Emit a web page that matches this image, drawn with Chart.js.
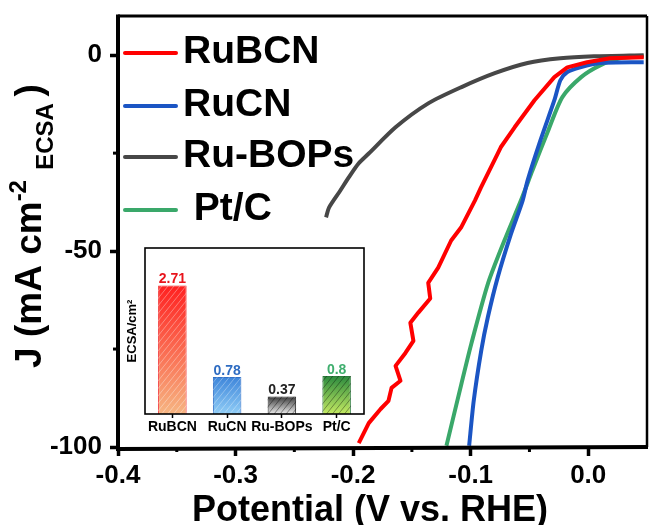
<!DOCTYPE html>
<html>
<head>
<meta charset="utf-8">
<script src="https://cdn.jsdelivr.net/npm/chart.js@4.4.0/dist/chart.umd.min.js"></script>
<style>
  html, body { margin: 0; padding: 0; background: #fff; }
  #wrap { position: relative; width: 649px; height: 525px; }
  #main { position: absolute; left: 0; top: 0; }
  #inset { position: absolute; left: 110px; top: 240px; }
</style>
</head>
<body>
<div id="wrap">
  <canvas id="main" width="649" height="525"></canvas>
  <canvas id="inset" width="260" height="200"></canvas>
</div>
<script>
// LSV curves, potential (V vs. RHE) vs J (mA cm-2 ECSA)
const seriesNames = ['RuBCN', 'RuCN', 'Ru-BOPs', 'Pt/C'];
const legendLabels = ['RuBCN', 'RuCN', 'Ru-BOPs', ' Pt/C'];

const rubcnX = [-0.1952, -0.1867, -0.1766, -0.1699, -0.1673, -0.1597, -0.1639, -0.1555, -0.1487, -0.1513, -0.1445,
                -0.1344, -0.1361, -0.1276, -0.1166, -0.1082, -0.0964, -0.0913, -0.0770, -0.0744, -0.0626, -0.0457,
                -0.0288, -0.0178, -0.0010, 0.0185, 0.0472];
const rubcnY = [-99.0, -93.9, -90.3, -88.2, -84.9, -83.1, -79.3, -76.0, -72.9, -68.3, -65.7,
                -62.1, -58.1, -54.2, -47.3, -44.0, -37.1, -33.8, -25.1, -23.5, -18.4, -11.5,
                -5.6, -3.1, -1.8, -0.8, -0.5];

const rucnX = [-0.1013, -0.0974, -0.0910, -0.0854, -0.0770, -0.0657, -0.0558, -0.0516, -0.0406, -0.0288,
               -0.0237, -0.0178, -0.0068, 0.0101, 0.0472];
const rucnY = [-99.7, -88.2, -75.4, -66.9, -56.7, -45.6, -37.1, -32.0, -21.7, -11.5,
               -6.4, -4.3, -3.1, -2.0, -1.8];

const ruBopsX = [-0.2230, -0.2205, -0.2110, -0.2037, -0.1952, -0.1867, -0.1639, -0.1361, -0.1082, -0.0795,
                 -0.0516, -0.0237, 0.0050, 0.0472];
const ruBopsY = [-41.4, -38.9, -34.6, -31.2, -27.6, -25.1, -18.4, -12.3, -8.2, -4.6,
                 -2.0, -0.8, -0.3, 0.0];

const ptcX = [-0.1206, -0.1079, -0.0995, -0.0853, -0.0713, -0.0573, -0.0474, -0.0340, -0.0220, -0.0060,
              0.0101, 0.0270, 0.0472];
const ptcY = [-99.7, -83.9, -73.7, -58.3, -47.3, -37.1, -29.4, -19.2, -10.7, -5.6,
              -2.6, -0.8, -0.3];

const xTicks = [-0.4, -0.3, -0.2, -0.1, 0.0];
const xMinor = [-0.35, -0.25, -0.15, -0.05];
const yTicks = [-100, -50, 0];
const yMinor = [-75, -25];

// inset: ECSA bars
const insetLabels = ['RuBCN', 'RuCN', 'Ru-BOPs', 'Pt/C'];
const ecsaValues = [2.71, 0.78, 0.37, 0.8];

const FONT = "'Liberation Sans', Arial, sans-serif";
const lineColors = ['#ff0000', '#1b55c4', '#474747', '#3aa86a'];
const barTop = ['#ff2020', '#3d85da', '#383838', '#2b8a3e'];
const barBottom = ['#f6b582', '#90cdf6', '#ececec', '#c4ea62'];
const barEdge = ['#f01818', '#3070c8', '#303030', '#2b7a3a'];
const hatchColors = ['rgba(255,255,255,0.45)', 'rgba(255,255,255,0.4)', 'rgba(0,0,0,0.5)', 'rgba(0,0,0,0.45)'];
const valueColors = ['#e8141c', '#2e6cc2', '#222222', '#3fae6e'];

function pts(xs, ys) {
  return xs.map((x, i) => ({ x: x, y: ys[i] }));
}

const curves = [[rubcnX, rubcnY], [rucnX, rucnY], [ruBopsX, ruBopsY], [ptcX, ptcY]];

// frame, minor ticks, legend and axis titles of the main plot
const mainDecor = {
  id: 'mainDecor',
  afterDraw(chart) {
    const c = chart.ctx, a = chart.chartArea;
    const xs = chart.scales.x, ys = chart.scales.y;
    c.save();
    c.strokeStyle = '#000';
    // minor ticks
    c.lineWidth = 3;
    xMinor.forEach(v => {
      const px = xs.getPixelForValue(v);
      c.beginPath(); c.moveTo(px, a.bottom); c.lineTo(px, a.bottom + 5); c.stroke();
    });
    yMinor.forEach(v => {
      const py = ys.getPixelForValue(v);
      c.beginPath(); c.moveTo(a.left, py); c.lineTo(a.left - 5, py); c.stroke();
    });
    // frame
    c.lineWidth = 3;
    c.beginPath(); c.moveTo(a.left, a.top); c.lineTo(a.right, a.top); c.stroke();
    c.lineWidth = 2.5;
    c.beginPath(); c.moveTo(a.right, a.top); c.lineTo(a.right, a.bottom); c.stroke();
    c.lineWidth = 4;
    c.beginPath(); c.moveTo(a.left, a.top - 1.5); c.lineTo(a.left, a.bottom + 2); c.lineTo(a.right + 1, a.bottom); c.stroke();

    // legend
    const rows = [53, 106, 157, 210];
    c.font = 'bold 39px ' + FONT;
    c.textAlign = 'left';
    c.textBaseline = 'alphabetic';
    legendLabels.forEach((t, i) => {
      c.strokeStyle = lineColors[i];
      c.lineWidth = 4;
      c.lineCap = 'round';
      c.beginPath(); c.moveTo(125, rows[i]); c.lineTo(176, rows[i]); c.stroke();
      c.fillStyle = '#000';
      c.fillText(t, 183, rows[i] + 10);
    });

    // x title
    c.font = 'bold 36px ' + FONT;
    c.textAlign = 'center';
    c.fillText('Potential (V vs. RHE)', 370, 521);

    // y title with super/subscript
    const big = 'bold 37px ' + FONT, small = 'bold 24px ' + FONT;
    const parts = [['J (mA cm', big, 0], ['-2', small, -15], [' ', big, 0], ['ECSA', small, 12], [' ', small, 0], [')', big, 0]];
    let total = 0;
    parts.forEach(p => { c.font = p[1]; p.w = c.measureText(p[0]).width; total += p.w; });
    c.translate(41, 226);
    c.rotate(-Math.PI / 2);
    c.textAlign = 'left';
    let x = -total / 2;
    parts.forEach(p => { c.font = p[1]; c.fillText(p[0], x, p[2]); x += p.w; });
    c.restore();
  }
};

new Chart(document.getElementById('main'), {
  type: 'scatter',
  data: {
    datasets: curves.map((cv, i) => ({
      label: seriesNames[i],
      data: pts(cv[0], cv[1]),
      showLine: true,
      borderColor: lineColors[i],
      borderWidth: 4,
      pointRadius: 0,
      tension: i === 0 ? 0 : 0.25,
      borderJoinStyle: 'round'
    }))
  },
  options: {
    responsive: false,
    animation: false,
    layout: { padding: { top: 16, right: 2, left: 0, bottom: 0 } },
    plugins: { legend: { display: false }, tooltip: { enabled: false } },
    scales: {
      x: {
        type: 'linear', min: -0.4, max: 0.05,
        afterFit: s => { s.height = 78; s.paddingLeft = 0; s.paddingRight = 0; },
        afterBuildTicks: s => { s.ticks = xTicks.map(v => ({ value: v })); },
        grid: { drawOnChartArea: false, tickLength: 9, tickWidth: 3.5, tickColor: '#000' },
        border: { display: false },
        ticks: {
          font: { family: FONT, size: 26, weight: 'bold' }, color: '#000',
          padding: 4, maxRotation: 0, autoSkip: false,
          callback: v => Number(v).toFixed(1)
        }
      },
      y: {
        type: 'linear', min: -100, max: 10,
        afterFit: s => { s.width = 118; s.paddingTop = 0; s.paddingBottom = 0; },
        afterBuildTicks: s => { s.ticks = yTicks.map(v => ({ value: v })); },
        grid: { drawOnChartArea: false, tickLength: 8, tickWidth: 3.5, tickColor: '#000' },
        border: { display: false },
        ticks: {
          font: { family: FONT, size: 26, weight: 'bold' }, color: '#000',
          padding: 8, autoSkip: false,
          callback: v => String(v)
        }
      }
    }
  },
  plugins: [mainDecor]
});

// inset bar chart
const insetDecor = {
  id: 'insetDecor',
  beforeDatasetsDraw(chart) {
    const c = chart.ctx, a = chart.chartArea;
    c.save();
    c.fillStyle = '#fff';
    c.fillRect(a.left, a.top, a.right - a.left, a.bottom - a.top);
    c.restore();
  },
  afterDatasetsDraw(chart) {
    const c = chart.ctx;
    chart.getDatasetMeta(0).data.forEach((bar, i) => {
      const p = bar.getProps(['x', 'y', 'base', 'width'], true);
      const l = p.x - p.width / 2, r = p.x + p.width / 2, h = p.base - p.y;
      c.save();
      c.beginPath(); c.rect(l, p.y, p.width, h); c.clip();
      c.strokeStyle = hatchColors[i];
      c.lineWidth = 0.8;
      for (let k = l - h; k < r; k += 6) {
        c.beginPath(); c.moveTo(k, p.base); c.lineTo(k + h * 0.8, p.y); c.stroke();
      }
      c.restore();
      c.save();
      c.font = 'bold 14px ' + FONT;
      c.fillStyle = valueColors[i];
      c.textAlign = 'center';
      c.textBaseline = 'alphabetic';
      c.fillText(String(ecsaValues[i]), p.x, p.y - 2);
      c.restore();
    });
  },
  afterDraw(chart) {
    const c = chart.ctx, a = chart.chartArea;
    c.save();
    c.strokeStyle = '#000';
    c.lineWidth = 1.6;
    c.strokeRect(a.left, a.top, a.right - a.left, a.bottom - a.top);
    c.translate(22, 91);
    c.rotate(-Math.PI / 2);
    c.font = 'bold 13px ' + FONT;
    c.fillStyle = '#000';
    c.textAlign = 'center';
    c.textBaseline = 'middle';
    c.fillText('ECSA/cm\u00b2', 0, 0);
    c.restore();
  }
};

new Chart(document.getElementById('inset'), {
  type: 'bar',
  data: {
    labels: insetLabels,
    datasets: [{
      data: ecsaValues,
      barPercentage: 0.52,
      categoryPercentage: 1.0,
      borderWidth: 1,
      borderColor: barEdge,
      backgroundColor: ctx => {
        const chart = ctx.chart;
        if (ctx.type !== 'data' || !chart.chartArea) return barTop[0];
        const i = ctx.dataIndex, ys = chart.scales.y;
        const g = chart.ctx.createLinearGradient(0, ys.getPixelForValue(ecsaValues[i]), 0, ys.getPixelForValue(0));
        g.addColorStop(0, barTop[i]);
        g.addColorStop(1, barBottom[i]);
        return g;
      }
    }]
  },
  options: {
    responsive: false,
    animation: false,
    layout: { padding: { top: 8, right: 6, left: 0, bottom: 0 } },
    plugins: { legend: { display: false }, tooltip: { enabled: false } },
    scales: {
      x: {
        afterFit: s => { s.height = 26; s.paddingLeft = 0; s.paddingRight = 0; },
        grid: { drawOnChartArea: false, offset: false, tickLength: 4, tickWidth: 1.5, tickColor: '#000' },
        border: { display: false },
        ticks: { font: { family: FONT, size: 14, weight: 'bold' }, color: '#000', padding: 1, maxRotation: 0, autoSkip: false }
      },
      y: {
        min: 0, max: 3.5,
        afterFit: s => { s.width = 35; s.paddingTop = 0; s.paddingBottom = 0; },
        grid: { display: false },
        border: { display: false },
        ticks: { display: false }
      }
    }
  },
  plugins: [insetDecor]
});
</script>
</body>
</html>
